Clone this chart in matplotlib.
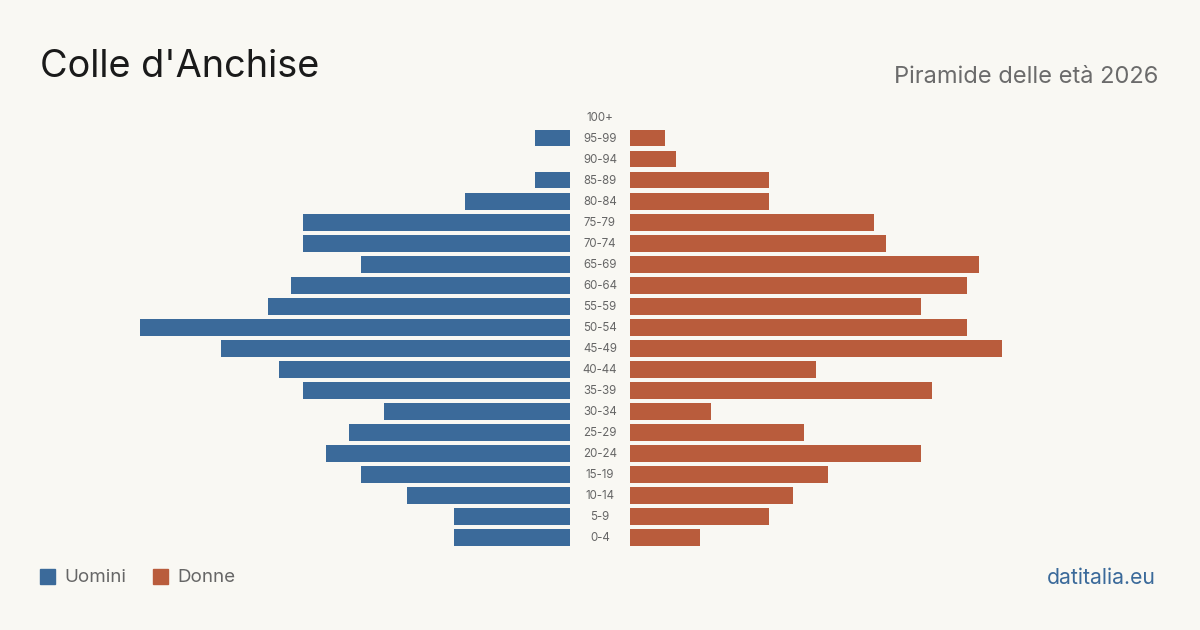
import matplotlib.pyplot as plt
from matplotlib.patches import Rectangle

plt.rcParams['font.family'] = ['Inter', 'DejaVu Sans']

age_groups = ["0-4", "5-9", "10-14", "15-19", "20-24", "25-29", "30-34", "35-39",
              "40-44", "45-49", "50-54", "55-59", "60-64", "65-69", "70-74",
              "75-79", "80-84", "85-89", "90-94", "95-99", "100+"]
uomini = [10, 10, 14, 18, 21, 19, 16, 23, 25, 30, 37, 26, 24, 18, 23, 23, 9, 3, 0, 3, 0]
donne = [6, 12, 14, 17, 25, 15, 7, 26, 16, 32, 29, 25, 29, 30, 22, 21, 12, 12, 4, 3, 0]

bg = "#f9f8f3"
blue = "#3b6a9a"
orange = "#b95c3c"

W, H = 1200, 630
fig = plt.figure(figsize=(12, 6.3), dpi=100, facecolor=bg)

px_per_unit = 430 / 37
top, bottom = 106.5, 548
ax_h = (bottom - top) / H
ax_y = 1 - bottom / H

axl = fig.add_axes([40 / W, ax_y, 530 / W, ax_h])
axr = fig.add_axes([630 / W, ax_y, 530 / W, ax_h])
ypos = list(range(len(age_groups)))

axl.barh(ypos, uomini, height=0.8, color=blue)
axl.set_xlim(530 / px_per_unit, 0)
axr.barh(ypos, donne, height=0.8, color=orange)
axr.set_xlim(0, 530 / px_per_unit)

for ax in (axl, axr):
    ax.set_ylim(-0.5, len(age_groups) - 0.5)
    ax.axis("off")

for i, lab in enumerate(age_groups):
    fig.text(600 / W, 1 - (538 - i * 21) / H, lab, ha="center", va="center",
             fontsize=8.3, color="#666666")

fig.text(40 / W, 1 - 67 / H, "Colle d'Anchise", fontsize=27.3, color="#1a1a1a",
         ha="left", va="center")
fig.text(1158 / W, 1 - 77 / H, "Piramide delle età 2026", fontsize=17, color="#6b6b6b",
         ha="right", va="center")

fig.patches.append(Rectangle((40 / W, 1 - 584 / H), 15 / W, 15 / H,
                             transform=fig.transFigure, color=blue))
fig.text(64 / W, 1 - 578 / H, "Uomini", fontsize=13.5, color="#666666", va="center")
fig.patches.append(Rectangle((153 / W, 1 - 584 / H), 15 / W, 15 / H,
                             transform=fig.transFigure, color=orange))
fig.text(177 / W, 1 - 578 / H, "Donne", fontsize=13.5, color="#666666", va="center")

fig.text(1156 / W, 1 - 578 / H, "datitalia.eu", fontsize=15.3, color=blue,
         ha="right", va="center")

fig.savefig("out.png", dpi=100, facecolor=bg)
